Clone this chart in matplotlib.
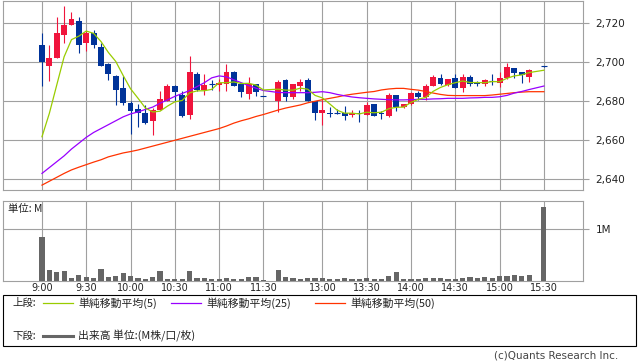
import matplotlib
matplotlib.use('Agg')
import matplotlib.pyplot as plt
from matplotlib.lines import Line2D
from matplotlib.patches import Rectangle
from matplotlib.ticker import FuncFormatter


times = ['9:00', '9:05', '9:10', '9:15', '9:20', '9:25', '9:30', '9:35', '9:40', '9:45',
         '9:50', '9:55', '10:00', '10:05', '10:10', '10:15', '10:20', '10:25', '10:30', '10:35',
         '10:40', '10:45', '10:50', '10:55', '11:00', '11:05', '11:10', '11:15', '11:20', '11:25',
         '11:30',
         '12:30', '12:35', '12:40', '12:45', '12:50', '12:55', '13:00', '13:05', '13:10', '13:15',
         '13:20', '13:25', '13:30', '13:35', '13:40', '13:45', '13:50', '13:55', '14:00', '14:05',
         '14:10', '14:15', '14:20', '14:25', '14:30', '14:35', '14:40', '14:45', '14:50', '14:55',
         '15:00', '15:05', '15:10', '15:15', '15:20', '15:30']

opens = [2709, 2698, 2702, 2714, 2719, 2721, 2710, 2715, 2708, 2699,
         2693, 2687, 2679, 2676, 2674, 2670, 2675.5, 2680, 2688, 2683,
         2673, 2694, 2686, 2688.6, 2688.2, 2689, 2695, 2689, 2683.5, 2689,
         2682.5,
         2680, 2691, 2682, 2688, 2691, 2680, 2674, 2674.2, 2674.2, 2674,
         2673, 2673.8, 2673, 2678.5, 2674, 2672.5, 2683, 2677, 2678.4, 2684,
         2682.4, 2688, 2692, 2688.4, 2691.8, 2686.7, 2692.3, 2690, 2688.7, 2690.2,
         2689.6, 2691.8, 2697, 2695, 2692.6, 2698]
highs = [2715, 2709, 2723, 2729, 2726, 2723, 2716, 2716.5, 2710, 2699.5,
         2693.5, 2693, 2680, 2678.5, 2678, 2676.5, 2685.5, 2689, 2688.5, 2685.5,
         2703, 2695, 2694, 2691, 2691.3, 2699, 2695.5, 2689, 2692.5, 2689,
         2682.5,
         2691, 2691.5, 2689, 2691.5, 2692, 2680, 2680.5, 2677, 2676, 2677.5,
         2675.7, 2675.5, 2679.5, 2678.5, 2675.2, 2684, 2683.2, 2678.4, 2685, 2685.5,
         2688.7, 2693.5, 2694, 2691.3, 2693.8, 2694, 2693.5, 2690.5, 2691.3, 2694,
         2695, 2699.5, 2697, 2695.2, 2696.4, 2698.3]
lows = [2688, 2690.5, 2702, 2710, 2719, 2704.5, 2706, 2707.5, 2698, 2691,
        2678, 2678, 2663, 2667, 2668.5, 2662.5, 2675.5, 2680, 2680, 2672,
        2671, 2685.5, 2683, 2686, 2685.5, 2685.5, 2688, 2682.4, 2681, 2682.7,
        2682.5,
        2674.5, 2680, 2681, 2685.5, 2680, 2670.5, 2668, 2672, 2673.3, 2670.5,
        2672, 2669.5, 2673, 2672.5, 2671, 2672, 2675.2, 2676.4, 2678, 2680.7,
        2680.7, 2688, 2688.5, 2688, 2686.7, 2685, 2688, 2688, 2688, 2688.4,
        2687.5, 2691.5, 2692.1, 2689.6, 2690.1, 2697.6]
closes = [2700, 2702, 2715, 2719, 2722, 2709, 2715, 2709, 2698, 2694,
          2686, 2679, 2675, 2674, 2669, 2675.5, 2681, 2688, 2685, 2672.5,
          2695, 2686, 2688.5, 2688.4, 2689.5, 2695, 2688, 2684.5, 2689, 2685,
          2682.5,
          2690, 2682, 2689, 2690, 2680, 2674, 2675.5, 2673.5, 2673.9, 2672.5,
          2674, 2673.5, 2678, 2672.5, 2673.7, 2683, 2677, 2678.4, 2684.4, 2682,
          2687.8, 2692.5, 2688.7, 2691.3, 2687, 2692.3, 2688.7, 2688.7, 2690.8, 2689.9,
          2691.8, 2697.4, 2694.7, 2693.7, 2696.1, 2698]
volume = [0.84, 0.20, 0.163, 0.18, 0.045, 0.10, 0.064, 0.045, 0.22, 0.064,
          0.084, 0.142, 0.084, 0.045, 0.025, 0.064, 0.18, 0.025, 0.025, 0.025,
          0.18, 0.045, 0.045, 0.025, 0.025, 0.045, 0.025, 0.025, 0.064, 0.064,
          0.006,
          0.20, 0.064, 0.045, 0.023, 0.043, 0.043, 0.043, 0.023, 0.023, 0.043,
          0.023, 0.023, 0.043, 0.023, 0.023, 0.088, 0.165, 0.023, 0.023, 0.023,
          0.043, 0.043, 0.043, 0.023, 0.023, 0.043, 0.062, 0.043, 0.062, 0.043,
          0.088, 0.088, 0.107, 0.088, 0.107, 1.43]

ma5 = [2661.8, 2673.8, 2688.3, 2702.8, 2711.6, 2713.4, 2716.0, 2714.8, 2710.6, 2705.0,
       2700.4, 2693.2, 2686.4, 2681.6, 2676.6, 2674.5, 2674.9, 2677.5, 2679.7, 2680.4,
       2684.3, 2685.3, 2685.4, 2686.1, 2689.5, 2689.5, 2689.9, 2689.1, 2689.2, 2688.3,
       2685.8,
       2686.2, 2685.7, 2685.7, 2686.7, 2686.2, 2683.0, 2681.7, 2678.6, 2675.4, 2673.9,
       2673.9, 2673.5, 2674.4, 2674.1, 2674.4, 2676.2, 2676.9, 2677.0, 2679.4, 2681.0,
       2682.0, 2685.1, 2687.1, 2688.5, 2689.5, 2690.4, 2689.6, 2689.6, 2689.5, 2690.1,
       2690.0, 2691.8, 2693.0, 2693.5, 2694.7, 2695.9]
ma25 = [2643, 2646, 2649, 2652, 2655.5, 2658.5, 2661.5, 2664, 2666, 2668,
        2670, 2672, 2673.5, 2674.5, 2675.8, 2677, 2679, 2680.7, 2682.5, 2684,
        2685.5, 2687.5, 2689.5, 2692, 2693, 2692.5, 2691, 2689.5, 2688, 2686.7,
        2685.5,
        2684.5, 2684.4, 2684.4, 2684.4, 2684.4, 2684.6, 2684.9, 2684.4, 2683.5, 2682.8,
        2682.2, 2681.8, 2681.5, 2681.2, 2681, 2680.8, 2680.7, 2680.7, 2680.8, 2681,
        2681, 2681.2, 2681.3, 2681.5, 2681.5, 2681.5, 2681.7, 2681.8, 2682, 2682,
        2682.3, 2683, 2684.2, 2685, 2686, 2687.8]
ma50 = [2637, 2639, 2641, 2643, 2644.8, 2646.2, 2647.5, 2648.8, 2650, 2651.5,
        2652.5, 2653.5, 2654.2, 2655, 2656, 2657, 2658, 2659, 2660, 2661,
        2662, 2663, 2664, 2665, 2666, 2667.3, 2668.8, 2670, 2671, 2672.2,
        2673.2,
        2675.5, 2676.5, 2677.3, 2678.1, 2679.2, 2680, 2680.8, 2681.5, 2682.2, 2683,
        2683.6, 2684.1, 2684.6, 2685, 2685.8, 2686.3, 2686.6, 2686.6, 2686.1, 2685.7,
        2685, 2684.2, 2683.5, 2683, 2682.9, 2682.9, 2682.9, 2682.9, 2682.9, 2683.2,
        2683.6, 2684, 2684.4, 2684.7, 2684.9, 2684.9]

tick_labels = ['9:00', '9:30', '10:00', '10:30', '11:00', '11:30',
               '13:00', '13:30', '14:00', '14:30', '15:00', '15:30']
price_ticks = [2640, 2660, 2680, 2700, 2720]
legend_names = ['単純移動平均(5)', '単純移動平均(25)', '単純移動平均(50)']

W, H = 638, 362
RED = '#f0143c'
BLUE = '#003399'
GRID = '#a0a0a0'
MA_COLORS = ['#99cc00', '#9900ff', '#ff3300']
JP = ['Noto Sans CJK JP', 'DejaVu Sans']


def slot(t):
    # 5 minute slots, morning session then afternoon after a short gap
    h, m = t.split(':')
    mins = int(h) * 60 + int(m)
    if mins <= 690:
        return (mins - 540) / 5
    return (mins - 750) / 5 + 32


def box(left, top, right, bottom):
    return [left / W, 1 - bottom / H, (right - left) / W, (bottom - top) / H]


def styleAxes(ax):
    for s in ax.spines.values():
        s.set_color(GRID)
        s.set_linewidth(0.8)
    ax.set_xlim(-5.28, 73.3)
    ax.set_xticks([slot(t) for t in tick_labels])
    ax.grid(True, color=GRID, linewidth=0.8)
    ax.set_axisbelow(True)
    ax.yaxis.tick_right()
    ax.tick_params(axis='y', length=4, color=GRID, pad=5, labelsize=7.5, labelcolor='#222222')
    ax.tick_params(axis='x', length=0, pad=2, labelsize=7, labelcolor='#222222')


def renderChart():
    xs = [slot(t) for t in times]

    fig = plt.figure(figsize=(W / 100, H / 100), dpi=100)
    ax = fig.add_axes(box(3, 1, 583, 190))
    axv = fig.add_axes(box(3, 201, 583, 280.5))

    styleAxes(ax)
    ax.set_ylim(2634.5, 2731.4)
    ax.set_yticks(price_ticks)
    ax.yaxis.set_major_formatter(FuncFormatter(lambda v, p: '{:,.0f}'.format(v)))
    ax.set_xticklabels([])

    for x, o, h, l, c in zip(xs, opens, highs, lows, closes):
        col = RED if c > o else BLUE
        ax.vlines(x, l, h, color=col, linewidth=0.8, zorder=3)
        if abs(c - o) < 0.3:
            ax.hlines(o, x - 0.4, x + 0.4, color=col, linewidth=0.8, zorder=3)
        else:
            ax.bar(x, abs(c - o), bottom=min(o, c), width=0.8, color=col,
                   linewidth=0, zorder=3)

    for ma, col in zip([ma50, ma25, ma5], MA_COLORS[::-1]):
        ax.plot(xs, ma, color=col, linewidth=0.9, zorder=4)

    styleAxes(axv)
    axv.set_ylim(0, 1.54)
    axv.set_yticks([1])
    axv.set_yticklabels(['1M'])
    axv.set_xticklabels(tick_labels)
    axv.bar(xs, volume, width=0.7, color='#666666', linewidth=0, zorder=3)
    axv.text(0.009, 0.9, '単位: M', transform=axv.transAxes, fontsize=7.5,
             family=JP, va='center', ha='left', color='#222222')

    # legend box
    fig.add_artist(Rectangle((3.3 / W, 1 - 346.3 / H), 632.5 / W, 51 / H,
                             transform=fig.transFigure, fill=False,
                             edgecolor='black', linewidth=0.8))
    fig.text(12.5 / W, 1 - 303 / H, '上段:', fontsize=7.5, family=JP,
             va='center', ha='left', color='#222222')
    starts = [43, 171, 315]
    for x0, name, col in zip(starts, legend_names, MA_COLORS):
        fig.add_artist(Line2D([x0 / W, (x0 + 30) / W], [1 - 303 / H] * 2,
                              transform=fig.transFigure, color=col, linewidth=0.9))
        fig.text((x0 + 35) / W, 1 - 303 / H, name, fontsize=7.8, family=JP,
                 va='center', ha='left', color='#222222')
    fig.text(12.5 / W, 1 - 336 / H, '下段:', fontsize=7.5, family=JP,
             va='center', ha='left', color='#222222')
    fig.add_artist(Line2D([43 / W, 73 / W], [1 - 336 / H] * 2,
                          transform=fig.transFigure, color='#666666', linewidth=2.2))
    fig.text(78 / W, 1 - 336 / H, '出来高 単位:(M株/口/枚)', fontsize=7.8, family=JP,
             va='center', ha='left', color='#222222')

    fig.text(618 / W, 1 - 356 / H, '(c)Quants Research Inc.', fontsize=7.5,
             va='center', ha='right', color='#444444')

    fig.savefig('out.png', dpi=100)


def main():
    renderChart()


if __name__ == "__main__":
    main()
